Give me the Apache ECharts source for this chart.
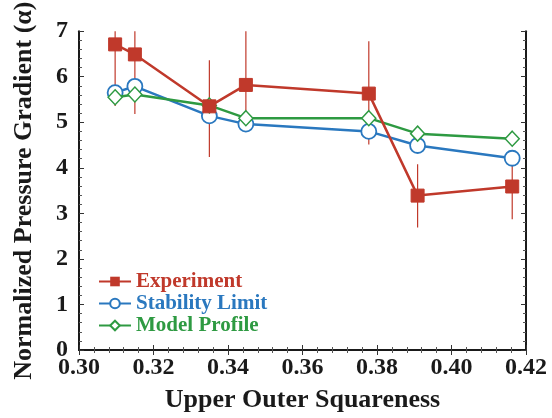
<!DOCTYPE html>
<html>
<head>
<meta charset="utf-8">
<script src="https://cdn.jsdelivr.net/npm/echarts@6/dist/echarts.min.js"></script>
<style>
html, body { margin: 0; padding: 0; background: #fff; }
#chart { width: 552px; height: 418px; }
</style>
</head>
<body>
<div id="chart"></div>
<script>
// values
var squareness = [0.3097, 0.3150, 0.3350, 0.3448, 0.3778, 0.3909, 0.4163];
var experiment = [6.71, 6.49, 5.35, 5.82, 5.63, 3.39, 3.59];
var expLow = [5.36, 5.18, 4.24, 4.85, 4.51, 2.69, 2.87];
var expHigh = [7.5, 7.5, 6.36, 7.5, 6.78, 4.08, 4.08];
var stability = [5.65, 5.79, 5.14, 4.96, 4.80, 4.49, 4.21];
var model = [5.55, 5.61, 5.37, 5.09, 5.09, 4.75, 4.64];

var names = ['Experiment', 'Stability Limit', 'Model Profile'];
var colors = ['#c0392b', '#2a78bf', '#2e9a42'];
var font = "'Liberation Serif', 'Times New Roman', serif";

function pairs(ys) {
	return squareness.map(function (x, i) { return [x, ys[i]]; });
}

var errData = squareness.map(function (x, i) { return [x, expLow[i], expHigh[i]]; });

var axisCommon = {
	axisLine: { lineStyle: { color: '#1a1a1a', width: 2 } },
	axisTick: { inside: true, length: 5, lineStyle: { color: '#333', width: 1 } },
	minorTick: { show: true, length: 3, lineStyle: { color: '#555' } },
	splitLine: { show: false }
};

var xTicks = { type: 'value', min: 0.30, max: 0.42, interval: 0.02 };
var yTicks = { type: 'value', min: 0, max: 7, interval: 1 };

var option = {
	backgroundColor: '#fff',
	animation: false,
	grid: { left: 79, top: 30, right: 26, bottom: 65 },
	legend: {
		orient: 'vertical',
		left: 93,
		top: 266,
		itemWidth: 32,
		itemHeight: 12,
		itemGap: 1,
		textStyle: { fontFamily: font, fontWeight: 'bold', fontSize: 21 },
		data: names.map(function (n, i) {
			return { name: n, textStyle: { color: colors[i] } };
		})
	},
	xAxis: [
		Object.assign({}, xTicks, axisCommon, {
			position: 'bottom',
			name: 'Upper Outer Squareness',
			nameLocation: 'middle',
			nameGap: 37,
			nameTextStyle: { fontFamily: font, fontWeight: 'bold', fontSize: 26, color: '#1a1a1a' },
			axisLabel: {
				fontFamily: font, fontWeight: 'bold', fontSize: 24, color: '#1a1a1a', margin: 6,
				formatter: function (v) { return v.toFixed(2); }
			}
		}),
		Object.assign({}, xTicks, axisCommon, { position: 'top', axisLabel: { show: false } })
	],
	yAxis: [
		Object.assign({}, yTicks, axisCommon, {
			position: 'left',
			name: 'Normalized Pressure Gradient (\u03b1)',
			nameLocation: 'middle',
			nameGap: 42,
			nameTextStyle: { fontFamily: font, fontWeight: 'bold', fontSize: 26, color: '#1a1a1a' },
			axisLabel: { fontFamily: font, fontWeight: 'bold', fontSize: 24, color: '#1a1a1a', margin: 11 },
			minorTick: { show: true, splitNumber: 5, length: 3, lineStyle: { color: '#555' } }
		}),
		Object.assign({}, yTicks, axisCommon, {
			position: 'right',
			axisLabel: { show: false },
			minorTick: { show: true, splitNumber: 5, length: 3, lineStyle: { color: '#555' } }
		})
	],
	series: [
		{
			type: 'custom',
			name: 'errorbars',
			clip: true,
			z: 1,
			data: errData,
			encode: { x: 0, y: [1, 2] },
			renderItem: function (params, api) {
				var lo = api.coord([api.value(0), api.value(1)]);
				var hi = api.coord([api.value(0), api.value(2)]);
				return {
					type: 'line',
					shape: { x1: lo[0], y1: lo[1], x2: hi[0], y2: hi[1] },
					style: { stroke: colors[0], lineWidth: 1.2 }
				};
			}
		},
		{
			type: 'line',
			name: names[0],
			z: 4,
			data: pairs(experiment),
			symbol: 'rect',
			symbolSize: 13,
			lineStyle: { color: colors[0], width: 2.5 },
			itemStyle: { color: colors[0], borderColor: colors[0] }
		},
		{
			type: 'line',
			name: names[1],
			z: 2,
			data: pairs(stability),
			symbol: 'circle',
			symbolSize: 15,
			lineStyle: { color: colors[1], width: 2.5 },
			itemStyle: { color: '#fff', borderColor: colors[1], borderWidth: 1.8 }
		},
		{
			type: 'line',
			name: names[2],
			z: 3,
			data: pairs(model),
			symbol: 'diamond',
			symbolSize: [14, 15],
			lineStyle: { color: colors[2], width: 2.5 },
			itemStyle: { color: '#fff', borderColor: colors[2], borderWidth: 1.5 }
		}
	]
};

var myChart = echarts.init(document.getElementById('chart'));
myChart.setOption(option);
</script>
</body>
</html>
